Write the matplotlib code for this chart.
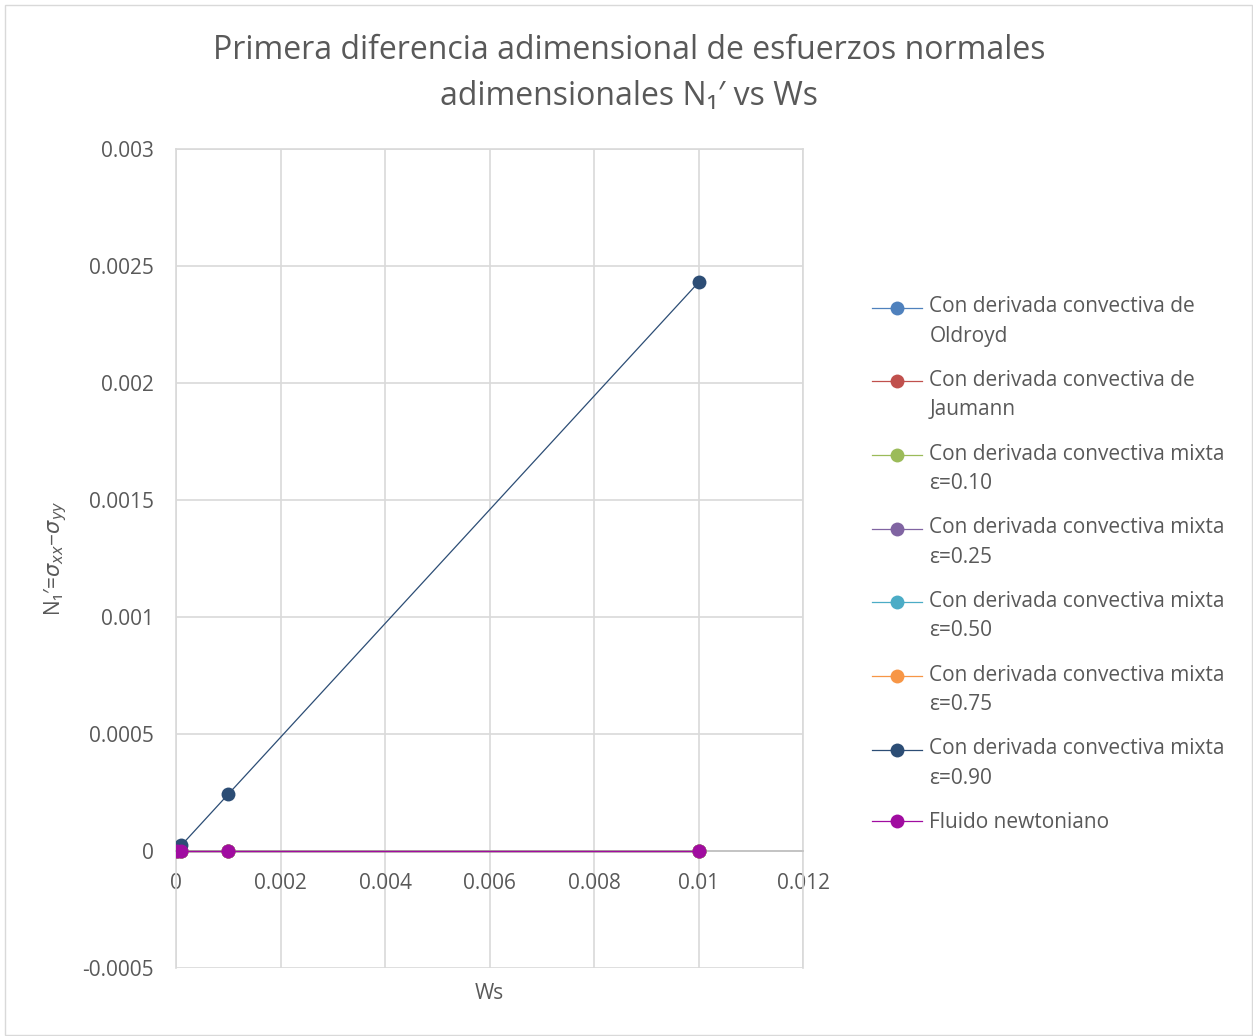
import numpy as np
import matplotlib.pyplot as plt
from matplotlib.legend_handler import HandlerLine2D
from matplotlib.transforms import Affine2D
from matplotlib.patches import Rectangle

plt.rcParams['font.family'] = ['Open Sans', 'DejaVu Sans']

# Datos
ws = [0.00001, 0.0001, 0.001, 0.01]
n1_oldroyd = [0, 0, 0, 0]
n1_jaumann = [0, 0, 0, 0]
n1_eps010 = [0, 0, 0, 0]
n1_eps025 = [0, 0, 0, 0]
n1_eps050 = [0, 0, 0, 0]
n1_eps075 = [0, 0, 0, 0]
n1_eps090 = [0.0000024, 0.000024, 0.000243, 0.00243]
n1_newton = [0, 0, 0, 0]

series = [
    ('Con derivada convectiva de\nOldroyd', n1_oldroyd, '#4F81BD'),
    ('Con derivada convectiva de\nJaumann', n1_jaumann, '#C0504D'),
    ('Con derivada convectiva mixta\nε=0.10', n1_eps010, '#9BBB59'),
    ('Con derivada convectiva mixta\nε=0.25', n1_eps025, '#8064A2'),
    ('Con derivada convectiva mixta\nε=0.50', n1_eps050, '#4BACC6'),
    ('Con derivada convectiva mixta\nε=0.75', n1_eps075, '#F79646'),
    ('Con derivada convectiva mixta\nε=0.90', n1_eps090, '#2C4D75'),
    ('Fluido newtoniano', n1_newton, '#A00CA0'),
]

x_ticks = np.arange(0, 0.0121, 0.002)
y_ticks = np.arange(-0.0005, 0.00301, 0.0005)

txt = '#595959'
grid = '#D9D9D9'

fig = plt.figure(figsize=(12.53, 10.36), dpi=100)
fig.patches.append(Rectangle((0.004, 0.001), 0.995, 0.994, transform=fig.transFigure,
                             fill=False, edgecolor='#D9D9D9', linewidth=1))
ax = fig.add_axes([0.1405, 0.0656, 0.5004, 0.7906])

for label, vals, col in series:
    ax.plot(ws, vals, color=col, linewidth=0.9, marker='o', markersize=10,
            markeredgewidth=0, label=label, zorder=3)

ax.set_xlim(0, 0.012)
ax.set_ylim(-0.0005, 0.003)
ax.set_xticks(x_ticks)
ax.set_yticks(y_ticks)
fmt = plt.FuncFormatter(lambda v, p: f'{v:g}' if abs(v) > 1e-12 else '0')
ax.xaxis.set_major_formatter(fmt)
ax.yaxis.set_major_formatter(fmt)
ax.grid(True, color=grid, linewidth=1.2)
ax.set_axisbelow(True)
for s in ['top', 'right', 'left']:
    ax.spines[s].set_color(grid)
    ax.spines[s].set_linewidth(1.2)
ax.spines['bottom'].set_position(('data', 0))
ax.spines['bottom'].set_color('#BFBFBF')
ax.spines['bottom'].set_linewidth(1.2)
ax.tick_params(axis='both', length=0, labelsize=15, labelcolor=txt)
ax.tick_params(axis='x', pad=16)
ax.tick_params(axis='y', pad=16)

ax.set_xlabel('Ws', fontsize=15, color=txt, labelpad=0)
ax.xaxis.set_label_coords(0.5, -0.018)
ax.set_ylabel('N₁′=$\\sigma_{xx}$−$\\sigma_{yy}$', fontsize=15, color=txt)
ax.yaxis.set_label_coords(-0.17, 0.5)

fig.text(0.502, 0.967, 'Primera diferencia adimensional de esfuerzos normales\n'
         'adimensionales N₁′ vs Ws', ha='center', va='top', fontsize=23,
         color=txt, linespacing=1.5)


class UpHandler(HandlerLine2D):
    # sube el marcador a la primera linea de la etiqueta
    def __init__(self, shift, **kw):
        super().__init__(**kw)
        self.shift = shift

    def create_artists(self, legend, orig_handle, xdescent, ydescent,
                       width, height, fontsize, trans):
        trans = Affine2D().translate(0, self.shift) + trans
        return super().create_artists(legend, orig_handle, xdescent, ydescent,
                                      width, height, fontsize, trans)


handles = ax.get_lines()
hmap = {h: UpHandler(10.5 if '\n' in h.get_label() else 0) for h in handles}
leg = fig.legend(handles=handles, loc='upper left', bbox_to_anchor=(0.688, 0.724),
                 frameon=False, fontsize=15, handlelength=2.4, handletextpad=0.33,
                 labelspacing=1.12, borderpad=0, handler_map=hmap)
for t in leg.get_texts():
    t.set_color(txt)
    t.set_linespacing(1.52)

fig.savefig('out.png', dpi=100)
